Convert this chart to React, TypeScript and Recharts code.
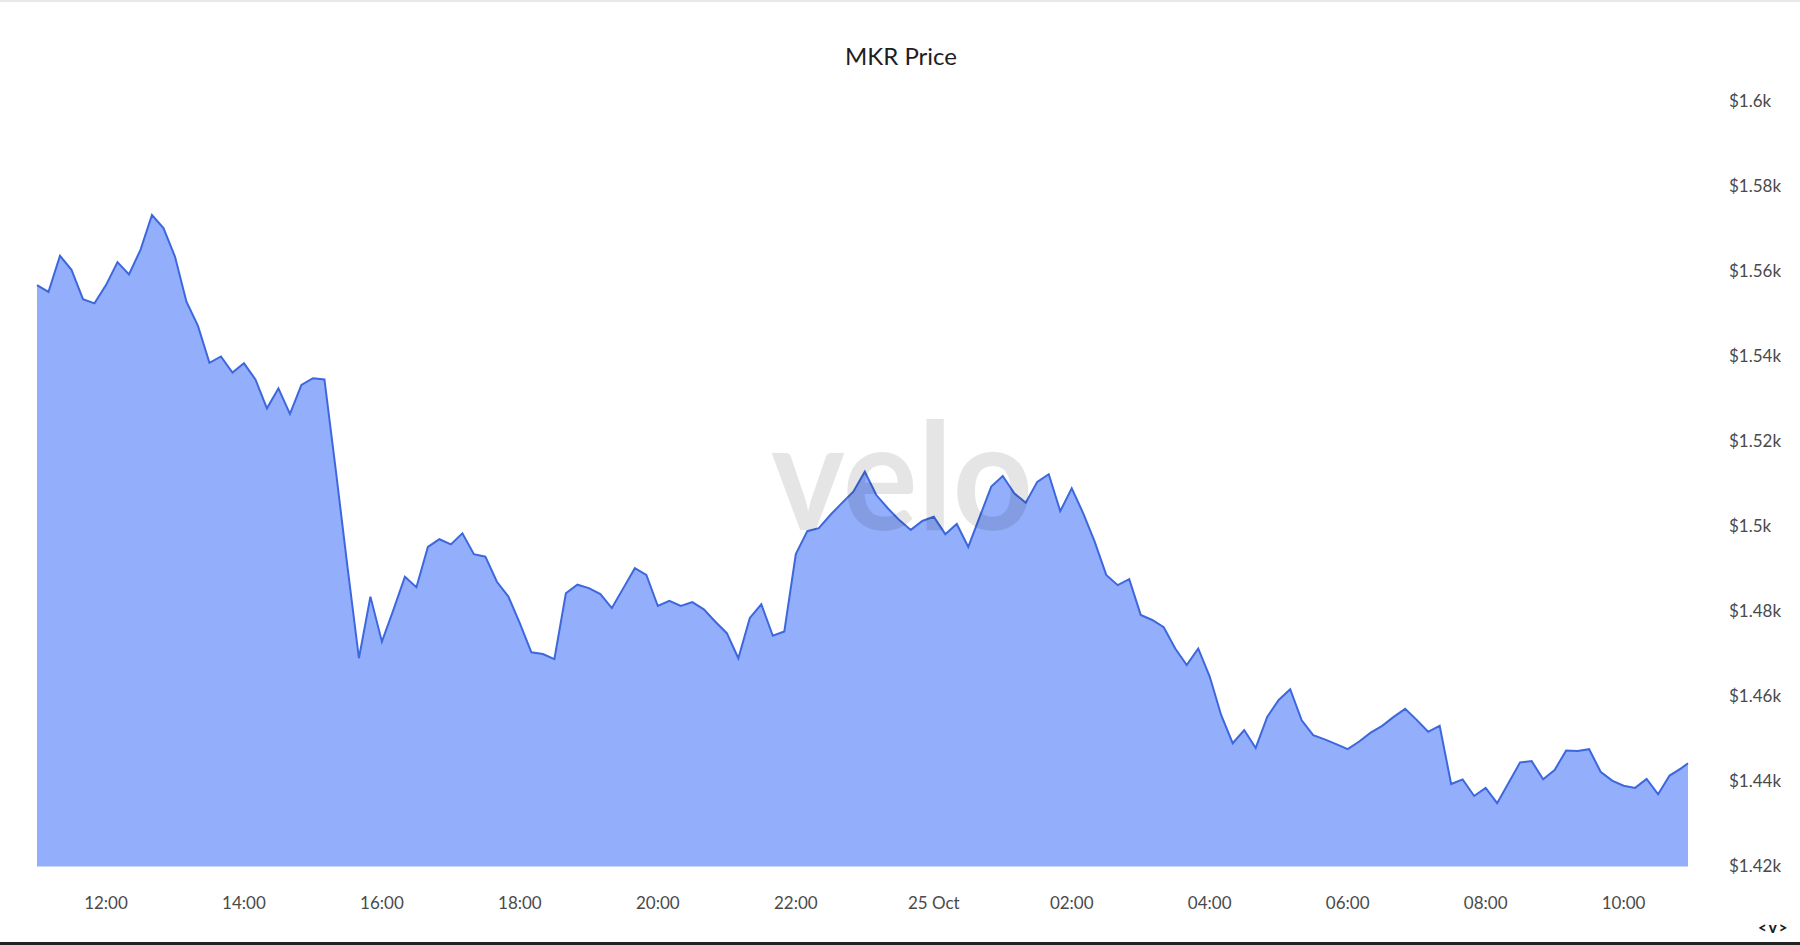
import { FC } from 'react'
import { Area, AreaChart, XAxis, YAxis } from 'recharts'

// 10-minute MKR prices from 11:00 (24 Oct); the last one is the live price at 10:56 (25 Oct)
const prices = [
  1556.8, 1555.2, 1563.7, 1560.4, 1553.5, 1552.5, 1556.8, 1562.2, 1559.3, 1565.1,
  1573.3, 1570.2, 1563.5, 1552.9, 1547.2, 1538.5, 1540.0, 1536.2, 1538.4, 1534.6,
  1527.8, 1532.5, 1526.5, 1533.3, 1534.9, 1534.6, 1513.0, 1490.6, 1469.0, 1483.5,
  1472.9, 1480.4, 1488.2, 1485.7, 1495.2, 1497.0, 1495.8, 1498.4, 1493.5, 1492.9,
  1487.0, 1483.5, 1477.2, 1470.4, 1470.0, 1468.8, 1484.3, 1486.3, 1485.5, 1484.1,
  1480.8, 1485.5, 1490.2, 1488.6, 1481.3, 1482.5, 1481.3, 1482.2, 1480.5, 1477.6,
  1474.9, 1469.0, 1478.5, 1481.7, 1474.3, 1475.3, 1493.5, 1498.9, 1499.6, 1502.7,
  1505.5, 1508.2, 1512.9, 1507.4, 1504.3, 1501.5, 1499.2, 1501.3, 1502.3, 1498.2,
  1500.6, 1495.2, 1502.3, 1509.4, 1511.9, 1507.8, 1505.6, 1510.5, 1512.3, 1503.6,
  1509.0, 1503.1, 1496.4, 1488.6, 1486.2, 1487.6, 1479.2, 1478.0, 1476.3, 1471.3,
  1467.4, 1471.3, 1464.7, 1455.6, 1449.0, 1452.1, 1447.9, 1455.2, 1459.2, 1461.7,
  1454.4, 1450.9, 1449.9, 1448.8, 1447.6, 1449.4, 1451.5, 1453.1, 1455.2, 1457.1,
  1454.5, 1451.7, 1453.1, 1439.4, 1440.5, 1436.6, 1438.5, 1434.9, 1439.7, 1444.5,
  1444.8, 1440.5, 1442.7, 1447.3, 1447.2, 1447.6, 1442.3, 1440.2, 1439.0, 1438.5,
  1440.6, 1437.0, 1441.4, 1443.1, 1444.3,
]
// minutes after 11:00 of the live (last) point
const lastMinute = 1436

// minutes after 11:00
const xTicks = [60, 180, 300, 420, 540, 660, 780, 900, 1020, 1140, 1260, 1380]
const xTickLabels = ['12:00', '14:00', '16:00', '18:00', '20:00', '22:00', '25 Oct', '02:00', '04:00', '06:00', '08:00', '10:00']
const yTicks = [1420, 1440, 1460, 1480, 1500, 1520, 1540, 1560, 1580, 1600]

const data = prices.map((price, i) => ({ t: i === prices.length - 1 ? lastMinute : i * 10, price }))

const FONT = 'Lato, "Open Sans", sans-serif'

const XTick: FC<any> = ({ x, y, payload }) => {
  const idx = xTicks.indexOf(payload.value)
  return (
    <text x={x} y={y + 37} dy="0.35em" textAnchor="middle" fill="#4a4a4a" fontSize={17} fontFamily={FONT}>
      {xTickLabels[idx]}
    </text>
  )
}

const YTick: FC<any> = ({ x, y, payload }) => {
  const v = payload.value / 1000
  return (
    <text x={x} y={y} dy="0.35em" textAnchor="start" fill="#4a4a4a" fontSize={17} fontFamily={FONT}>
      {`$${parseFloat(v.toFixed(2))}k`}
    </text>
  )
}

const App: FC = () => {
  return (
    <div style={{ position: 'absolute', left: 0, top: 0, width: 1800, height: 945, background: '#fff', overflow: 'hidden' }}>
      <div style={{ position: 'absolute', left: 0, top: 0, width: 1800, height: 2, background: '#e8e8e8' }} />
      <div
        style={{
          position: 'absolute',
          left: 0,
          top: 40,
          width: 1802,
          textAlign: 'center',
          fontFamily: FONT,
          fontSize: 24,
          color: '#1e1e1e',
          lineHeight: '32px',
        }}
      >
        MKR Price
      </div>
      <AreaChart width={1800} height={945} data={data} margin={{ top: 101.5, right: 0, bottom: 38.5, left: 37 }}>
        <XAxis
          dataKey="t"
          type="number"
          domain={['dataMin', 'dataMax']}
          ticks={xTicks}
          axisLine={false}
          tickLine={false}
          tickSize={0}
          tickMargin={0}
          height={40}
          tick={(props) => <XTick {...props} />}
        />
        <YAxis
          orientation="right"
          type="number"
          domain={[1420, 1600]}
          ticks={yTicks}
          axisLine={false}
          tickLine={false}
          tickSize={0}
          tickMargin={41}
          width={112}
          tick={(props) => <YTick {...props} />}
        />
        <Area
          type="linear"
          dataKey="price"
          stroke="#3d67de"
          strokeWidth={2}
          fill="#93affc"
          fillOpacity={1}
          isAnimationActive={false}
          dot={false}
          activeDot={false}
        />
      </AreaChart>
      <svg width={1800} height={945} style={{ position: 'absolute', left: 0, top: 0, pointerEvents: 'none' }}>
        <text
          x={771}
          y={530}
          fontSize={150}
          fontWeight={700}
          fontFamily={FONT}
          fill="#000"
          fillOpacity={0.1}
          textLength={262}
          lengthAdjust="spacingAndGlyphs"
        >
          velo
        </text>
      </svg>
      <div
        style={{
          position: 'absolute',
          left: 1758,
          top: 918,
          fontFamily: FONT,
          fontWeight: 900,
          fontSize: 15,
          letterSpacing: 2,
          color: '#1a1a1a',
        }}
      >
        {'<v>'}
      </div>
      <div style={{ position: 'absolute', left: 0, top: 942, width: 1800, height: 3, background: '#222' }} />
    </div>
  )
}

export default App
